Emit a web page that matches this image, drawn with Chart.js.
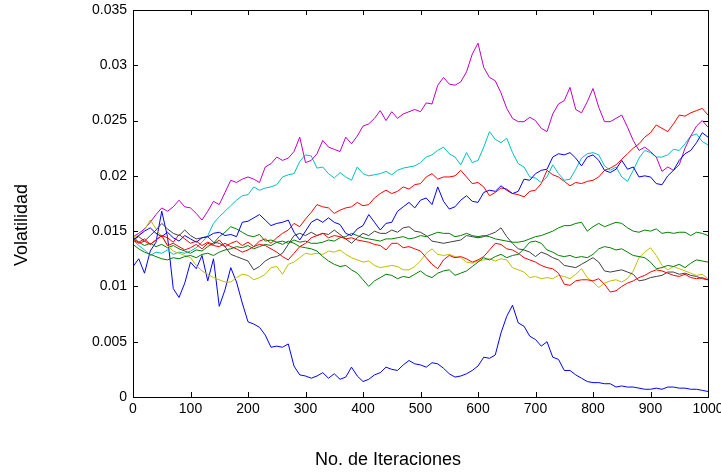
<!DOCTYPE html>
<html>
<head>
<meta charset="utf-8">
<script src="https://cdn.jsdelivr.net/npm/chart.js@4.4.1/dist/chart.umd.min.js"></script>
<style>
html, body { margin: 0; padding: 0; background: #fff; }
#wrap { width: 721px; height: 473px; }
</style>
</head>
<body>
<div id="wrap"><canvas id="chart" width="721" height="473"></canvas></div>
<script>
// Eje X: iteraciones (cada 10)
var iteraciones = [];
for (var k = 0; k <= 1000; k += 10) iteraciones.push(k);

var xTicks = [0, 100, 200, 300, 400, 500, 600, 700, 800, 900, 1000];
var yTicks = [0, 0.005, 0.01, 0.015, 0.02, 0.025, 0.03, 0.035];

// Series (una cada 10 iteraciones)
var azul1 = [0.0118, 0.0125, 0.0112, 0.0132, 0.0140, 0.0168, 0.0145, 0.0098, 0.0090, 0.0103,
  0.0122, 0.0116, 0.0128, 0.0105, 0.0125, 0.0082, 0.0097, 0.0117, 0.0104, 0.0085,
  0.0068, 0.0066, 0.0063, 0.0056, 0.0045, 0.0046, 0.0045, 0.0048, 0.0028, 0.0020,
  0.0019, 0.0017, 0.0019, 0.0022, 0.0017, 0.0021, 0.0016, 0.0018, 0.0027, 0.0019,
  0.0014, 0.0016, 0.0020, 0.0022, 0.0027, 0.0025, 0.0024, 0.0029, 0.0033, 0.0030,
  0.0029, 0.0027, 0.0031, 0.0030, 0.0026, 0.0021, 0.0018, 0.0019, 0.0021, 0.0024,
  0.0028, 0.0036, 0.0035, 0.0038, 0.0058, 0.0073, 0.0083, 0.0067, 0.0064, 0.0055,
  0.0052, 0.0046, 0.0050, 0.0036, 0.0034, 0.0024, 0.0024, 0.0020, 0.0017, 0.0014,
  0.0013, 0.0013, 0.0012, 0.0012, 0.0009, 0.0010, 0.0009, 0.0009, 0.0008, 0.0007,
  0.0007, 0.0008, 0.0007, 0.0009, 0.0009, 0.0008, 0.0008, 0.0007, 0.0007, 0.0006, 0.0005];

var verde1 = [0.0143, 0.0140, 0.0137, 0.0139, 0.0136, 0.0138, 0.0135, 0.0137, 0.0134, 0.0132,
  0.0130, 0.0133, 0.0132, 0.0136, 0.0139, 0.0145, 0.0149, 0.0154, 0.0152, 0.0149,
  0.0146, 0.0145, 0.0147, 0.0141, 0.0142, 0.0140, 0.0141, 0.0139, 0.0142, 0.0140,
  0.0141, 0.0139, 0.0139, 0.0140, 0.0142, 0.0141, 0.0144, 0.0145, 0.0148, 0.0146,
  0.0144, 0.0143, 0.0142, 0.0141, 0.0143, 0.0143, 0.0144, 0.0145, 0.0143, 0.0144,
  0.0146, 0.0145, 0.0147, 0.0149, 0.0148, 0.0148, 0.0145, 0.0146, 0.0148, 0.0146,
  0.0145, 0.0146, 0.0145, 0.0143, 0.0142, 0.0141, 0.0140, 0.0140, 0.0141, 0.0143,
  0.0145, 0.0146, 0.0148, 0.0150, 0.0153, 0.0155, 0.0155, 0.0157, 0.0158, 0.0150,
  0.0154, 0.0157, 0.0154, 0.0156, 0.0158, 0.0157, 0.0153, 0.0150, 0.0149, 0.0151,
  0.0150, 0.0152, 0.0148, 0.0149, 0.0148, 0.0149, 0.0149, 0.0146, 0.0149, 0.0148, 0.0146];

var rojo1 = [0.0145, 0.0140, 0.0143, 0.0138, 0.0142, 0.0146, 0.0144, 0.0140, 0.0147, 0.0143,
  0.0139, 0.0141, 0.0137, 0.0140, 0.0138, 0.0142, 0.0136, 0.0139, 0.0141, 0.0137,
  0.0140, 0.0136, 0.0141, 0.0143, 0.0139, 0.0144, 0.0148, 0.0151, 0.0157, 0.0154,
  0.0161, 0.0167, 0.0174, 0.0172, 0.0171, 0.0166, 0.0169, 0.0171, 0.0172, 0.0176,
  0.0173, 0.0174, 0.0180, 0.0184, 0.0187, 0.0184, 0.0186, 0.0190, 0.0188, 0.0192,
  0.0193, 0.0199, 0.0202, 0.0197, 0.0199, 0.0199, 0.0200, 0.0205, 0.0199, 0.0193,
  0.0194, 0.0190, 0.0182, 0.0185, 0.0189, 0.0188, 0.0184, 0.0183, 0.0181, 0.0186,
  0.0187, 0.0193, 0.0205, 0.0201, 0.0199, 0.0195, 0.0191, 0.0194, 0.0193, 0.0195,
  0.0196, 0.0199, 0.0205, 0.0207, 0.0210, 0.0215, 0.0220, 0.0225, 0.0229, 0.0235,
  0.0239, 0.0246, 0.0243, 0.0240, 0.0247, 0.0255, 0.0254, 0.0257, 0.0259, 0.0261, 0.0255];

var cian = [0.0142, 0.0137, 0.0133, 0.0128, 0.0131, 0.0130, 0.0133, 0.0129, 0.0131, 0.0130,
  0.0132, 0.0135, 0.0140, 0.0146, 0.0157, 0.0163, 0.0168, 0.0173, 0.0178, 0.0182,
  0.0183, 0.0190, 0.0187, 0.0189, 0.0190, 0.0192, 0.0199, 0.0201, 0.0202, 0.0213,
  0.0219, 0.0218, 0.0207, 0.0208, 0.0202, 0.0198, 0.0203, 0.0199, 0.0196, 0.0208,
  0.0202, 0.0200, 0.0201, 0.0202, 0.0204, 0.0201, 0.0205, 0.0207, 0.0208, 0.0209,
  0.0212, 0.0217, 0.0219, 0.0223, 0.0226, 0.0220, 0.0217, 0.0210, 0.0221, 0.0212,
  0.0214, 0.0226, 0.0240, 0.0233, 0.0230, 0.0234, 0.0221, 0.0211, 0.0208, 0.0199,
  0.0198, 0.0194, 0.0199, 0.0210, 0.0202, 0.0196, 0.0197, 0.0206, 0.0216, 0.0220,
  0.0221, 0.0219, 0.0209, 0.0205, 0.0208, 0.0199, 0.0195, 0.0205, 0.0216, 0.0223,
  0.0221, 0.0217, 0.0217, 0.0219, 0.0224, 0.0223, 0.0229, 0.0236, 0.0238, 0.0231, 0.0228];

var magenta = [0.0145, 0.0148, 0.0152, 0.0158, 0.0165, 0.0171, 0.0168, 0.0172, 0.0178, 0.0172,
  0.0171, 0.0166, 0.0160, 0.0168, 0.0177, 0.0174, 0.0185, 0.0196, 0.0194, 0.0197,
  0.0199, 0.0197, 0.0194, 0.0208, 0.0211, 0.0217, 0.0214, 0.0216, 0.0222, 0.0235,
  0.0212, 0.0214, 0.0220, 0.0232, 0.0226, 0.0224, 0.0222, 0.0235, 0.0229, 0.0236,
  0.0245, 0.0247, 0.0252, 0.0259, 0.0250, 0.0258, 0.0252, 0.0256, 0.0258, 0.0260,
  0.0258, 0.0266, 0.0265, 0.0282, 0.0289, 0.0283, 0.0282, 0.0285, 0.0294, 0.0310,
  0.0320, 0.0298, 0.0289, 0.0286, 0.0275, 0.0261, 0.0252, 0.0249, 0.0249, 0.0253,
  0.0250, 0.0243, 0.0240, 0.0256, 0.0265, 0.0268, 0.0280, 0.0260, 0.0257, 0.0267,
  0.0279, 0.0262, 0.0249, 0.0249, 0.0252, 0.0255, 0.0244, 0.0232, 0.0223, 0.0226,
  0.0222, 0.0217, 0.0204, 0.0208, 0.0205, 0.0210, 0.0225, 0.0236, 0.0245, 0.0250, 0.0244];

var amarillo = [0.0145, 0.0146, 0.0151, 0.0160, 0.0152, 0.0145, 0.0137, 0.0132, 0.0130, 0.0128,
  0.0126, 0.0119, 0.0114, 0.0111, 0.0108, 0.0106, 0.0104, 0.0104, 0.0108, 0.0111,
  0.0110, 0.0106, 0.0108, 0.0111, 0.0117, 0.0118, 0.0111, 0.0120, 0.0122, 0.0126,
  0.0130, 0.0129, 0.0130, 0.0129, 0.0132, 0.0131, 0.0133, 0.0129, 0.0126, 0.0124,
  0.0122, 0.0123, 0.0119, 0.0117, 0.0118, 0.0119, 0.0118, 0.0115, 0.0115, 0.0118,
  0.0123, 0.0130, 0.0134, 0.0129, 0.0128, 0.0129, 0.0127, 0.0126, 0.0122, 0.0121,
  0.0123, 0.0124, 0.0125, 0.0123, 0.0125, 0.0124, 0.0117, 0.0115, 0.0113, 0.0108,
  0.0109, 0.0107, 0.0108, 0.0107, 0.0110, 0.0109, 0.0107, 0.0111, 0.0116, 0.0108,
  0.0104, 0.0099, 0.0103, 0.0105, 0.0106, 0.0104, 0.0107, 0.0114, 0.0126, 0.0131,
  0.0135, 0.0128, 0.0119, 0.0115, 0.0118, 0.0116, 0.0114, 0.0112, 0.0110, 0.0111, 0.0107];

var gris = [0.0142, 0.0145, 0.0141, 0.0146, 0.0151, 0.0157, 0.0152, 0.0148, 0.0146, 0.0151,
  0.0146, 0.0143, 0.0144, 0.0145, 0.0140, 0.0139, 0.0136, 0.0129, 0.0127, 0.0125,
  0.0123, 0.0115, 0.0118, 0.0123, 0.0126, 0.0127, 0.0130, 0.0138, 0.0146, 0.0148,
  0.0146, 0.0149, 0.0146, 0.0148, 0.0147, 0.0151, 0.0147, 0.0143, 0.0139, 0.0144,
  0.0148, 0.0146, 0.0150, 0.0148, 0.0148, 0.0151, 0.0149, 0.0153, 0.0154, 0.0150,
  0.0149, 0.0146, 0.0141, 0.0140, 0.0139, 0.0140, 0.0141, 0.0142, 0.0146, 0.0145,
  0.0144, 0.0145, 0.0147, 0.0149, 0.0153, 0.0145, 0.0139, 0.0134, 0.0133, 0.0131,
  0.0127, 0.0131, 0.0129, 0.0126, 0.0124, 0.0119, 0.0118, 0.0117, 0.0120, 0.0123,
  0.0126, 0.0122, 0.0114, 0.0113, 0.0114, 0.0115, 0.0113, 0.0111, 0.0105, 0.0106,
  0.0108, 0.0109, 0.0110, 0.0113, 0.0113, 0.0111, 0.0112, 0.0110, 0.0109, 0.0107, 0.0106];

var azul2 = [0.0142, 0.0146, 0.0150, 0.0153, 0.0148, 0.0145, 0.0149, 0.0144, 0.0141, 0.0146,
  0.0143, 0.0140, 0.0144, 0.0145, 0.0148, 0.0149, 0.0146, 0.0147, 0.0145, 0.0158,
  0.0159, 0.0162, 0.0165, 0.0160, 0.0155, 0.0157, 0.0158, 0.0160, 0.0149, 0.0142,
  0.0150, 0.0158, 0.0161, 0.0158, 0.0162, 0.0158, 0.0156, 0.0148, 0.0146, 0.0152,
  0.0155, 0.0165, 0.0158, 0.0151, 0.0157, 0.0158, 0.0168, 0.0172, 0.0176, 0.0171,
  0.0178, 0.0180, 0.0174, 0.0190, 0.0177, 0.0170, 0.0172, 0.0178, 0.0182, 0.0177,
  0.0176, 0.0185, 0.0187, 0.0186, 0.0191, 0.0187, 0.0184, 0.0186, 0.0197, 0.0196,
  0.0202, 0.0205, 0.0206, 0.0217, 0.0220, 0.0219, 0.0221, 0.0216, 0.0209, 0.0217,
  0.0219, 0.0214, 0.0205, 0.0203, 0.0206, 0.0214, 0.0206, 0.0208, 0.0199, 0.0200,
  0.0199, 0.0193, 0.0192, 0.0200, 0.0205, 0.0214, 0.0220, 0.0223, 0.0230, 0.0239, 0.0235];

var verde2 = [0.0138, 0.0134, 0.0131, 0.0129, 0.0127, 0.0125, 0.0124, 0.0126, 0.0125, 0.0127,
  0.0128, 0.0126, 0.0129, 0.0130, 0.0128, 0.0131, 0.0133, 0.0134, 0.0136, 0.0135,
  0.0137, 0.0134, 0.0136, 0.0138, 0.0137, 0.0140, 0.0138, 0.0141, 0.0139, 0.0136,
  0.0135, 0.0134, 0.0132, 0.0127, 0.0123, 0.0120, 0.0118, 0.0119, 0.0115, 0.0112,
  0.0106, 0.0100, 0.0105, 0.0108, 0.0111, 0.0110, 0.0107, 0.0109, 0.0108, 0.0111,
  0.0114, 0.0110, 0.0108, 0.0112, 0.0114, 0.0115, 0.0110, 0.0112, 0.0114, 0.0118,
  0.0122, 0.0126, 0.0124, 0.0127, 0.0129, 0.0126, 0.0128, 0.0129, 0.0134, 0.0140,
  0.0141, 0.0139, 0.0133, 0.0131, 0.0128, 0.0127, 0.0128, 0.0126, 0.0127, 0.0126,
  0.0129, 0.0134, 0.0136, 0.0135, 0.0133, 0.0134, 0.0131, 0.0128, 0.0127, 0.0126,
  0.0122, 0.0116, 0.0117, 0.0119, 0.0118, 0.0120, 0.0117, 0.0121, 0.0124, 0.0123, 0.0122];

var rojo2 = [0.0142, 0.0139, 0.0141, 0.0138, 0.0142, 0.0146, 0.0137, 0.0139, 0.0136, 0.0133,
  0.0135, 0.0138, 0.0134, 0.0139, 0.0137, 0.0136, 0.0139, 0.0136, 0.0134, 0.0131,
  0.0133, 0.0136, 0.0138, 0.0137, 0.0134, 0.0131, 0.0127, 0.0124, 0.0130, 0.0136,
  0.0139, 0.0144, 0.0146, 0.0148, 0.0144, 0.0146, 0.0145, 0.0143, 0.0144, 0.0142,
  0.0141, 0.0140, 0.0138, 0.0137, 0.0133, 0.0139, 0.0139, 0.0135, 0.0136, 0.0134,
  0.0132, 0.0126, 0.0120, 0.0116, 0.0124, 0.0128, 0.0126, 0.0127, 0.0125, 0.0122,
  0.0124, 0.0127, 0.0133, 0.0139, 0.0138, 0.0134, 0.0133, 0.0130, 0.0126, 0.0124,
  0.0122, 0.0119, 0.0117, 0.0116, 0.0112, 0.0102, 0.0101, 0.0105, 0.0106, 0.0106,
  0.0105, 0.0107, 0.0102, 0.0095, 0.0096, 0.0100, 0.0103, 0.0105, 0.0108, 0.0110,
  0.0113, 0.0115, 0.0114, 0.0112, 0.0110, 0.0109, 0.0111, 0.0108, 0.0107, 0.0108, 0.0106];

// orden de dibujo: el primero queda encima
var series = [
  { data: rojo2, color: '#ff0000' },
  { data: verde2, color: '#008000' },
  { data: azul2, color: '#0000ff' },
  { data: gris, color: '#404040' },
  { data: amarillo, color: '#bfbf00' },
  { data: magenta, color: '#bf00bf' },
  { data: cian, color: '#00bfbf' },
  { data: rojo1, color: '#ff0000' },
  { data: verde1, color: '#008000' },
  { data: azul1, color: '#0000ff' }
];

function toPoints(values) {
  return values.map(function(v, i) {
    return { x: iteraciones[i], y: v };
  });
}

var datasets = series.map(function(s) {
  return {
    data: toPoints(s.data),
    borderColor: s.color,
    borderWidth: 1,
    pointRadius: 0,
    fill: false,
    tension: 0
  };
});

// caja, marcas hacia dentro y titulos de ejes
var boxPlugin = {
  id: 'boxPlugin',
  afterDraw: function(chart) {
    var ctx = chart.ctx;
    var a = chart.chartArea;
    var xs = chart.scales.x;
    var ys = chart.scales.y;
    ctx.save();
    ctx.strokeStyle = '#000';
    ctx.lineWidth = 1;
    ctx.strokeRect(Math.round(a.left) + 0.5, Math.round(a.top) + 0.5,
      Math.round(a.right - a.left), Math.round(a.bottom - a.top));
    ctx.beginPath();
    xTicks.forEach(function(t) {
      var px = Math.round(xs.getPixelForValue(t)) + 0.5;
      ctx.moveTo(px, a.bottom); ctx.lineTo(px, a.bottom - 5);
      ctx.moveTo(px, a.top); ctx.lineTo(px, a.top + 5);
    });
    yTicks.forEach(function(t) {
      var py = Math.round(ys.getPixelForValue(t)) + 0.5;
      ctx.moveTo(a.left, py); ctx.lineTo(a.left + 5, py);
      ctx.moveTo(a.right, py); ctx.lineTo(a.right - 5, py);
    });
    ctx.stroke();

    ctx.fillStyle = '#000';
    ctx.font = '18px "Liberation Sans", Arial, sans-serif';
    ctx.textAlign = 'center';
    ctx.textBaseline = 'middle';
    ctx.fillText('No. de Iteraciones', 388, 460);
    ctx.translate(22, 225);
    ctx.rotate(-Math.PI / 2);
    ctx.fillText('Volatilidad', 0, 0);
    ctx.restore();
  }
};

var tickFont = { family: '"Liberation Sans", Arial, sans-serif', size: 14 };

new Chart(document.getElementById('chart'), {
  type: 'line',
  data: { datasets: datasets },
  options: {
    responsive: false,
    devicePixelRatio: 1,
    animation: false,
    events: [],
    layout: { padding: { left: 0, right: 13, top: 10, bottom: 0 } },
    plugins: { legend: { display: false }, tooltip: { enabled: false } },
    scales: {
      x: {
        type: 'linear',
        min: 0,
        max: 1000,
        afterBuildTicks: function(scale) {
          scale.ticks = xTicks.map(function(v) { return { value: v }; });
        },
        afterFit: function(scale) {
          scale.height = 76;
          scale.paddingLeft = 0;
          scale.paddingRight = 0;
        },
        ticks: {
          color: '#000',
          font: tickFont,
          padding: 4,
          maxRotation: 0,
          autoSkip: false,
          callback: function(v) { return String(v); }
        },
        grid: { display: true, drawOnChartArea: false, drawTicks: false },
        border: { display: false }
      },
      y: {
        type: 'linear',
        min: 0,
        max: 0.035,
        afterBuildTicks: function(scale) {
          scale.ticks = yTicks.map(function(v) { return { value: v }; });
        },
        afterFit: function(scale) {
          scale.width = 133;
          scale.paddingTop = 0;
          scale.paddingBottom = 0;
        },
        ticks: {
          color: '#000',
          font: tickFont,
          padding: 6,
          autoSkip: false,
          callback: function(v) { return String(parseFloat(v.toFixed(3))); }
        },
        grid: { display: true, drawOnChartArea: false, drawTicks: false },
        border: { display: false }
      }
    }
  },
  plugins: [boxPlugin]
});
</script>
</body>
</html>
